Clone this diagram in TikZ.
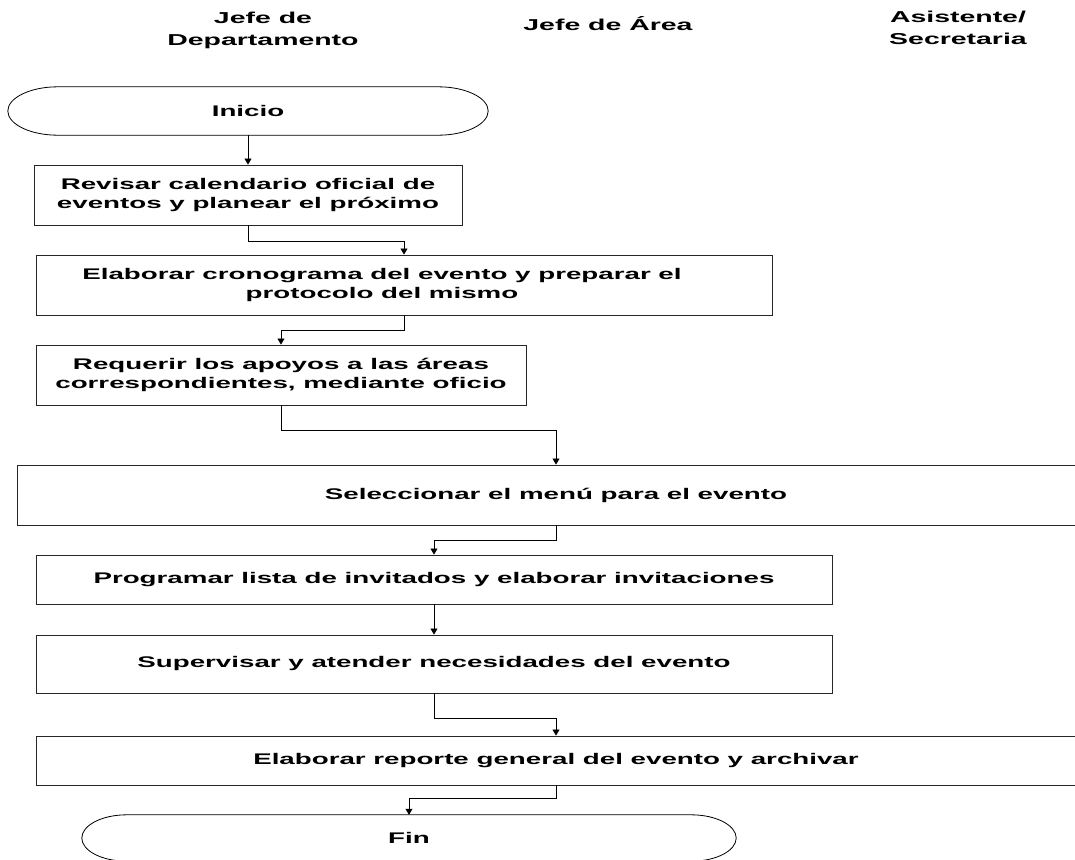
\documentclass[tikz,border=0pt]{standalone}
\usepackage{fontspec}
\setmainfont{Liberation Sans}[FakeStretch=1.8]
\usetikzlibrary{arrows.meta}
\newcommand\boxfont{\bfseries\fontsize{15.4}{19}\selectfont}
\newcommand\hdrfont{\bfseries\fontsize{15.8}{22}\selectfont}
\begin{document}
\begin{tikzpicture}[x=1pt,y=-1pt,
  box/.style={draw=black!85, line width=0.9pt, fill=white, inner sep=0pt, font=\boxfont, align=center},
  txt/.style={font=\boxfont, align=center, inner sep=0pt},
  hdr/.style={font=\hdrfont, align=center, inner sep=0pt},
  term/.style={draw=none, inner sep=0pt, font=\boxfont},
  arr/.style={draw=black, line width=0.8pt, -{Triangle[width=7pt,length=6pt]}},
  outl/.style={draw=black, line width=0.8pt}]
\clip (0,0) rectangle (1075,859);
\fill[white] (0,0) rectangle (1075,859);

% headers
\node[hdr] (h1) at (263,30) {Jefe de\\Departamento};
\node[hdr] (h2) at (608,24) {Jefe de Área};
\node[hdr] (h3) at (958,28) {Asistente/\\Secretaria};

% terminals
\node[term, minimum width=480pt, minimum height=48pt] (ini) at (248,111) {Inicio};
\draw[outl] ([xshift=50pt]ini.north west) -- ([xshift=-50pt]ini.north east)
  .. controls +(27.6,0) and +(0,-13.2) .. (ini.east)
  .. controls +(0,13.2) and +(27.6,0) .. ([xshift=-50pt]ini.south east)
  -- ([xshift=50pt]ini.south west)
  .. controls +(-27.6,0) and +(0,13.2) .. (ini.west)
  .. controls +(0,-13.2) and +(-27.6,0) .. ([xshift=50pt]ini.north west) -- cycle;

\node[term, minimum width=654pt, minimum height=46pt] (fin) at (409,838) {Fin};
\draw[outl] ([xshift=45pt]fin.north west) -- ([xshift=-45pt]fin.north east)
  .. controls +(24.9,0) and +(0,-12.7) .. (fin.east)
  .. controls +(0,12.7) and +(24.9,0) .. ([xshift=-45pt]fin.south east)
  -- ([xshift=45pt]fin.south west)
  .. controls +(-24.9,0) and +(0,12.7) .. (fin.west)
  .. controls +(0,-12.7) and +(-24.9,0) .. ([xshift=45pt]fin.north west) -- cycle;

% process boxes
\node[box, minimum width=428pt, minimum height=60pt] (b1) at (248,195) {Revisar calendario oficial de\\eventos y planear el próximo};
\node[box, minimum width=736pt, minimum height=60pt] (b2) at (404,285) {};
\node[txt] (t2) at (382,285) {Elaborar cronograma del evento y preparar el\\protocolo del mismo};
\node[box, minimum width=490pt, minimum height=60pt] (b3) at (281,375) {Requerir los apoyos a las áreas\\correspondientes, mediante oficio};
\node[box, minimum width=1078pt, minimum height=60pt] (b4) at (556,495) {Seleccionar el menú para el evento};
\node[box, minimum width=796pt, minimum height=49pt] (b5) at (434,579.5) {Programar lista de invitados y elaborar invitaciones};
\node[box, minimum width=796pt, minimum height=58pt] (b6) at (434,664) {Supervisar y atender necesidades del evento};
\node[box, minimum width=1040pt, minimum height=49pt] (b7) at (556,760.5) {Elaborar reporte general del evento y archivar};

% connectors
\draw[arr] (ini.south) -- (b1.north);
\draw[arr] (b1.south) -- ++(0,16) -| (b2.north);
\draw[arr] (b2.south) -- ++(0,15) -| (b3.north);
\draw[arr] (b3.south) -- ++(0,25) -| (b4.north);
\draw[arr] (b4.south) -- ++(0,15) -| (b5.north);
\draw[arr] (b5.south) -- (b6.north);
\draw[arr] (b6.south) -- ++(0,25) -| (b7.north);
\draw[arr] (b7.south) -- ++(0,13) -| (fin.north);
\end{tikzpicture}
\end{document}
